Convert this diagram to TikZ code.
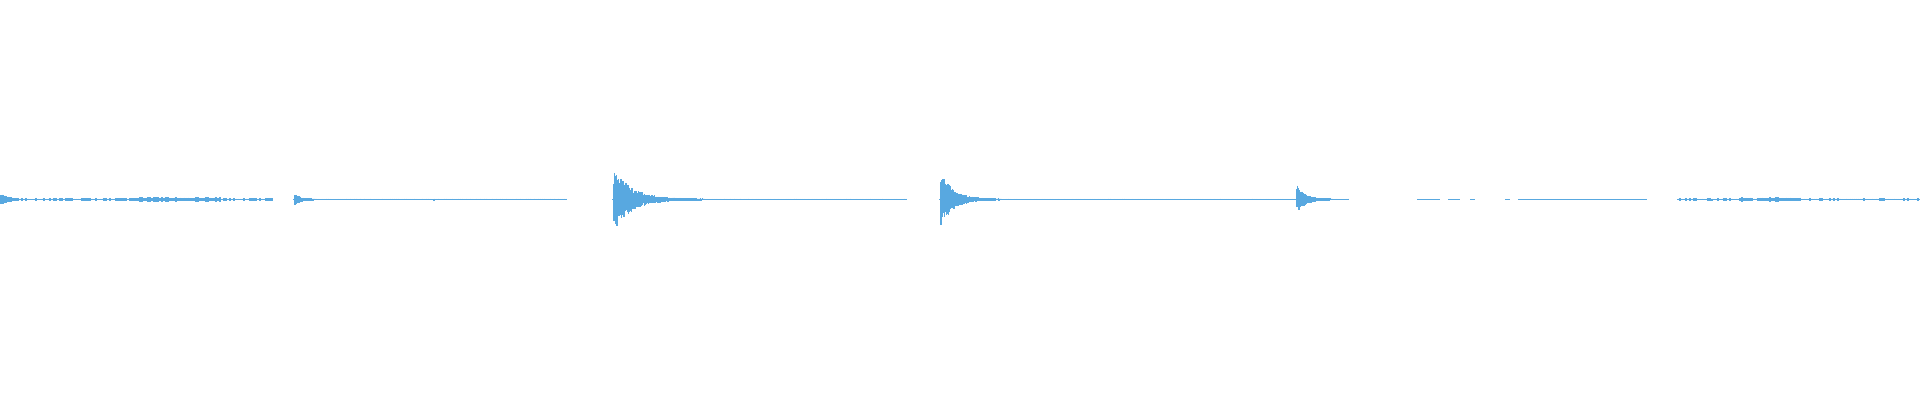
\documentclass[tikz,border=0pt]{standalone}
\definecolor{wave}{RGB}{88,168,224}
\tikzset{wv/.style={draw=wave,line width=0.35pt}}
\begin{document}
\begin{tikzpicture}[x=0.01cm,y=-0.01cm]
\useasboundingbox (0,0) rectangle (1920,400);
\pgfmathsetseed{7}
\foreach \a/\b in {0/272,294/567,612/906,939/1348,1678/1920}{
  \draw[wv] (\a,199.5) -- (\b,199.5);
}
\foreach \a/\b in {1417/1440,1448/1460,1470/1475,1505/1510,1518/1647}{
  \draw[wv] (\a,199.5) -- (\b,199.5);
}
\foreach \a/\b/\h in {0/272/1.5,294/567/1.0,700/906/0.8,980/1348/0.8,1678/1920/1.2,140/220/2.5,1740/1800/2.2}{
  \pgfmathtruncatemacro{\ab}{\a+2}
  \foreach \x in {\a,\ab,...,\b}{
    \pgfmathsetmacro{\r}{\h*(0.4+0.6*rnd)}
    \draw[wv] (\x,199.5-\r) -- (\x,199.5+\r);
  }
}
\foreach \x in {0,1,...,14}{
  \pgfmathsetmacro{\r}{6*exp(-\x/8)*(0.5+0.5*rnd)+0.8}
  \draw[wv] (\x,199.5-\r) -- (\x,199.5+\r);
}
\foreach \xo/\A/\tau/\len in {614/31/18/90,941/28/12/60,1297/14/8/35,295/5/6/20}{
  \foreach \d in {0,0.5,...,\len}{
    \pgfmathsetmacro{\r}{\A*exp(-\d/\tau)*(0.3+0.7*rnd)+0.8}
    \pgfmathsetmacro{\s}{\A*exp(-\d/\tau)*(0.3+0.7*rnd)+0.8}
    \draw[wv] (\xo+\d,199.5-\r) -- (\xo+\d,199.5+\s);
  }
}
\end{tikzpicture}
\end{document}
